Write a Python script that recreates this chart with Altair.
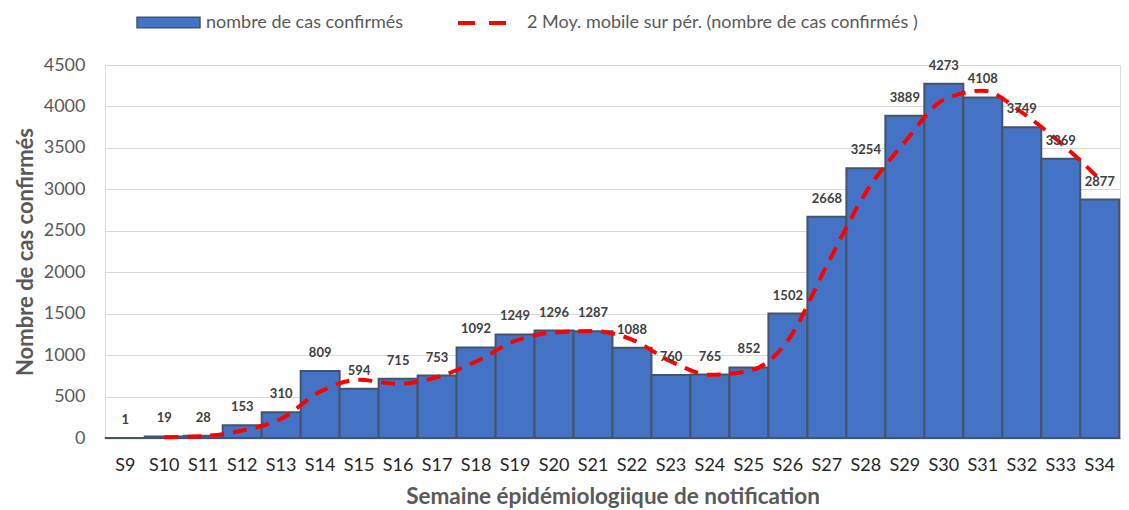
import altair as alt
import pandas as pd

weeks = ["S9", "S10", "S11", "S12", "S13", "S14", "S15", "S16", "S17", "S18", "S19", "S20", "S21",
         "S22", "S23", "S24", "S25", "S26", "S27", "S28", "S29", "S30", "S31", "S32", "S33", "S34"]
cases = [1, 19, 28, 153, 310, 809, 594, 715, 753, 1092, 1249, 1296, 1287,
         1088, 760, 765, 852, 1502, 2668, 3254, 3889, 4273, 4108, 3749, 3369, 2877]
ma_weeks = weeks[1:]
ma_values = [10, 23.5, 90.5, 231.5, 559.5, 701.5, 654.5, 734, 922.5, 1170.5, 1272.5, 1291.5,
             1187.5, 924, 762.5, 808.5, 1177, 2085, 2961, 3571.5, 4081, 4190.5, 3928.5, 3559, 3123]
y_ticks = [0, 500, 1000, 1500, 2000, 2500, 3000, 3500, 4000, 4500]

bar_label = "nombre de cas confirmés"
line_label = "2 Moy. mobile sur pér. (nombre de cas confirmés )"

bars_df = pd.DataFrame({"semaine": weeks, "cas": cases, "serie": bar_label})
line_df = pd.DataFrame({"semaine": ma_weeks, "moy": ma_values, "serie2": line_label})

FONT = "Lato"

x_enc = alt.X("semaine:N", sort=weeks,
              scale=alt.Scale(paddingInner=0, paddingOuter=0.02),
              axis=alt.Axis(title="Semaine épidémiologiique de notification", labelAngle=0,
                            labelFontSize=18, labelColor="#262626", labelPadding=18,
                            ticks=False, domainColor="#A6A6A6", domainWidth=1.5,
                            titleFontSize=22.5, titleFontWeight="bold", titleColor="#595959",
                            titlePadding=11, labelFont=FONT, titleFont=FONT))

y_scale = alt.Scale(domain=[0, 4500], nice=False)

bars = alt.Chart(bars_df).mark_bar(stroke="#44546A", strokeWidth=2).encode(
    x=x_enc,
    y=alt.Y("cas:Q", scale=y_scale,
            axis=alt.Axis(title="Nombre de cas confirmés", values=y_ticks, format="d",
                          ticks=False, domain=False,
                          labelFontSize=18, labelColor="#595959", labelPadding=20,
                          gridColor="#D9D9D9", gridWidth=1,
                          titleFontSize=22, titleFontWeight="bold", titleColor="#595959",
                          titlePadding=6, labelFont=FONT, titleFont=FONT)),
    fill=alt.Fill("serie:N", scale=alt.Scale(domain=[bar_label], range=["#4472C4"]),
                  legend=alt.Legend(title=None, orient="none", legendX=31, legendY=-75,
                                    symbolType="M-1,-0.17L1,-0.17L1,0.17L-1,0.17Z",
                                    symbolSize=3969, symbolStrokeColor="#44546A",
                                    symbolStrokeWidth=1.5, labelFontSize=18, labelColor="#595959",
                                    labelFont=FONT, labelOffset=5, labelLimit=0)),
)

labels = alt.Chart(bars_df).mark_text(baseline="bottom", dy=-11, fontSize=13, fontWeight="bold",
                                      color="#404040", font=FONT).encode(
    x=alt.X("semaine:N", sort=weeks),
    y=alt.Y("cas:Q", scale=y_scale),
    text=alt.Text("cas:Q"),
)

line = alt.Chart(line_df).mark_line(strokeWidth=4, strokeDash=[14, 9], interpolate="monotone").encode(
    x=alt.X("semaine:N", sort=weeks),
    y=alt.Y("moy:Q", scale=y_scale),
    stroke=alt.Stroke("serie2:N", scale=alt.Scale(domain=[line_label], range=["#FF0000"]),
                      legend=alt.Legend(title=None, orient="none", legendX=351, legendY=-69,
                                        symbolType="stroke", symbolSize=2500,
                                        symbolStrokeWidth=4, symbolDash=[17, 14],
                                        labelFontSize=18, labelColor="#595959",
                                        labelFont=FONT, labelOffset=17, labelLimit=0)),
)

chart = alt.layer(bars, line, labels).resolve_scale(fill="independent", stroke="independent").properties(
    width=1113, height=500,
    autosize=alt.AutoSizeParams(type="fit", contains="padding"),
    padding={"left": 6, "right": 0, "top": 48, "bottom": 0},
).configure_view(stroke=None).configure(background="white")

chart.save("out.html", embed_options={"renderer": "svg", "actions": False})
